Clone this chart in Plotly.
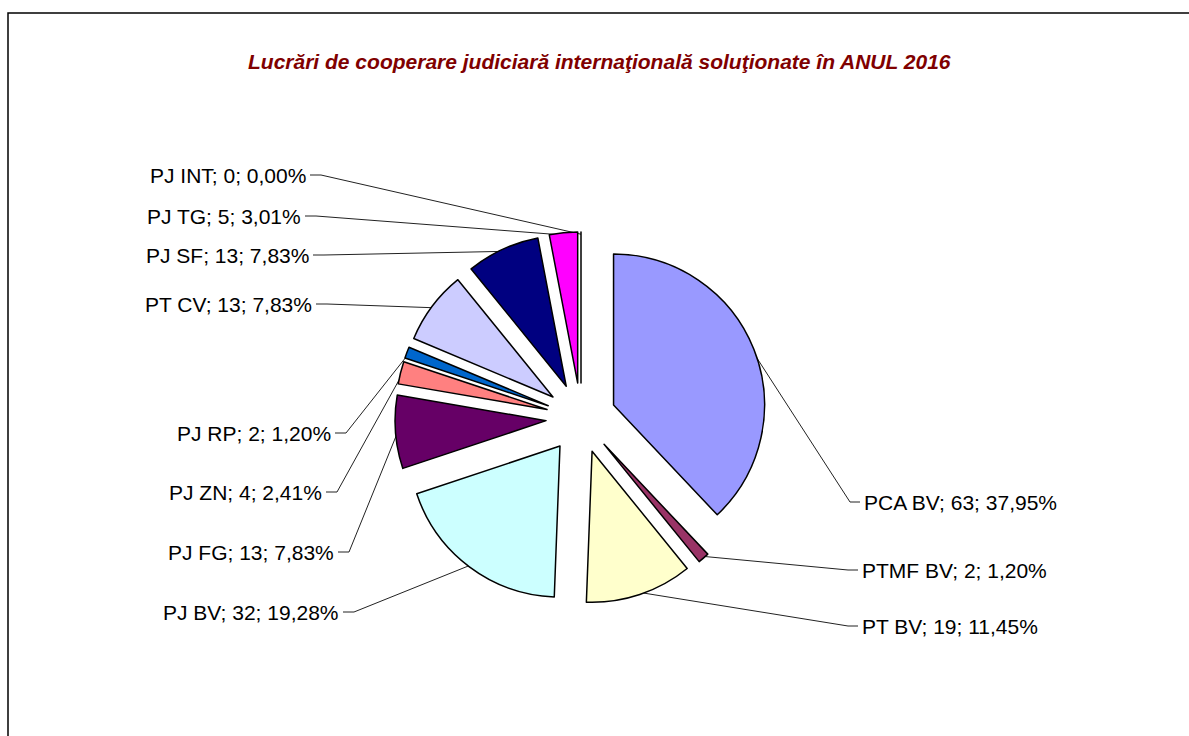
import math
import plotly.graph_objects as go

# ---------------- data ----------------
categories = ["PCA BV", "PTMF BV", "PT BV", "PJ BV", "PJ FG", "PJ ZN",
              "PJ RP", "PT CV", "PJ SF", "PJ TG", "PJ INT"]
values = [63, 2, 19, 32, 13, 4, 2, 13, 13, 5, 0]
title_text = "Lucrări de cooperare judiciară internaţională soluţionate în ANUL 2016"

# ---------------- styles / layout ----------------
colors = ["#9999FF", "#993366", "#FFFFCC", "#CCFFFF", "#660066", "#FF8080",
          "#0066CC", "#CCCCFF", "#000080", "#FF00FF", "#00CCFF"]
W, H = 1189, 736
CX, CY = 581, 418          # pie centre (px)
R = 151                    # pie radius (px)
PULL = 0.232               # explosion (fraction of radius)
FONT = "Liberation Sans, Arial, sans-serif"

# label anchors (px): side, x of text edge, y centre
label_layout = {
    "PCA BV": ("right", 862, 502),
    "PTMF BV": ("right", 860, 570),
    "PT BV": ("right", 860, 626),
    "PJ BV": ("left", 341, 612),
    "PJ FG": ("left", 336, 552),
    "PJ ZN": ("left", 324, 492),
    "PJ RP": ("left", 333, 433),
    "PT CV": ("left", 314, 304),
    "PJ SF": ("left", 311, 255),
    "PJ TG": ("left", 303, 216),
    "PJ INT": ("left", 308, 175),
}

total = sum(values)

fig = go.Figure()

half = R * (1 + PULL)
fig.add_trace(go.Pie(
    labels=categories, values=values, sort=False, direction="clockwise",
    rotation=0, pull=[PULL] * len(values),
    marker=dict(colors=colors, line=dict(color="black", width=1.5)),
    textinfo="none", hoverinfo="label+value+percent", showlegend=False,
    domain=dict(x=[(CX - half) / W, (CX + half) / W],
                y=[(H - CY - half) / H, (H - CY + half) / H]),
))

# leader lines + labels
annotations = []
cum = 0.0
for name, v in zip(categories, values):
    mid = (cum + v / 2) / total * 2 * math.pi
    cum += v
    dx, dy = math.sin(mid), -math.cos(mid)
    dist = PULL * R + R * 0.985
    px, py = CX + dist * dx, CY + dist * dy
    side, lx, ly = label_layout[name]
    pct = f"{v / total * 100:.2f}".replace(".", ",")
    txt = f"{name}; {v}; {pct}%"
    if side == "left":
        xs = [lx + 2, lx + 13, px]
        anchor = "right"
    else:
        xs = [lx - 2, lx - 12, px]
        anchor = "left"
    ys = [ly, ly, py]
    fig.add_trace(go.Scatter(x=xs, y=ys, mode="lines",
                             line=dict(color="#222222", width=1),
                             hoverinfo="skip", showlegend=False,
                             xaxis="x", yaxis="y"))
    annotations.append(dict(x=lx, y=ly, xref="x", yref="y", text=txt,
                            showarrow=False, xanchor=anchor, yanchor="middle",
                            font=dict(family=FONT, size=21, color="black")))

annotations.append(dict(x=599, y=61, xref="x", yref="y",
                        text=f"<b><i>{title_text}</i></b>", showarrow=False,
                        xanchor="center", yanchor="middle",
                        font=dict(family=FONT, size=21, color="#800000")))

fig.update_layout(
    width=W, height=H,
    margin=dict(l=0, r=0, t=0, b=0),
    paper_bgcolor="white", plot_bgcolor="rgba(0,0,0,0)",
    xaxis=dict(range=[0, W], visible=False, fixedrange=True, domain=[0, 1]),
    yaxis=dict(range=[H, 0], visible=False, fixedrange=True, domain=[0, 1]),
    annotations=annotations,
    shapes=[dict(type="rect", xref="x", yref="y", x0=8, y0=13, x1=W + 20, y1=H + 20,
                 line=dict(color="black", width=1.5), layer="below")],
)

fig.write_html("out.html",
               config={"displayModeBar": False, "staticPlot": True},
               post_script="document.body.style.margin='0';"
                           "document.body.style.overflow='hidden';")
